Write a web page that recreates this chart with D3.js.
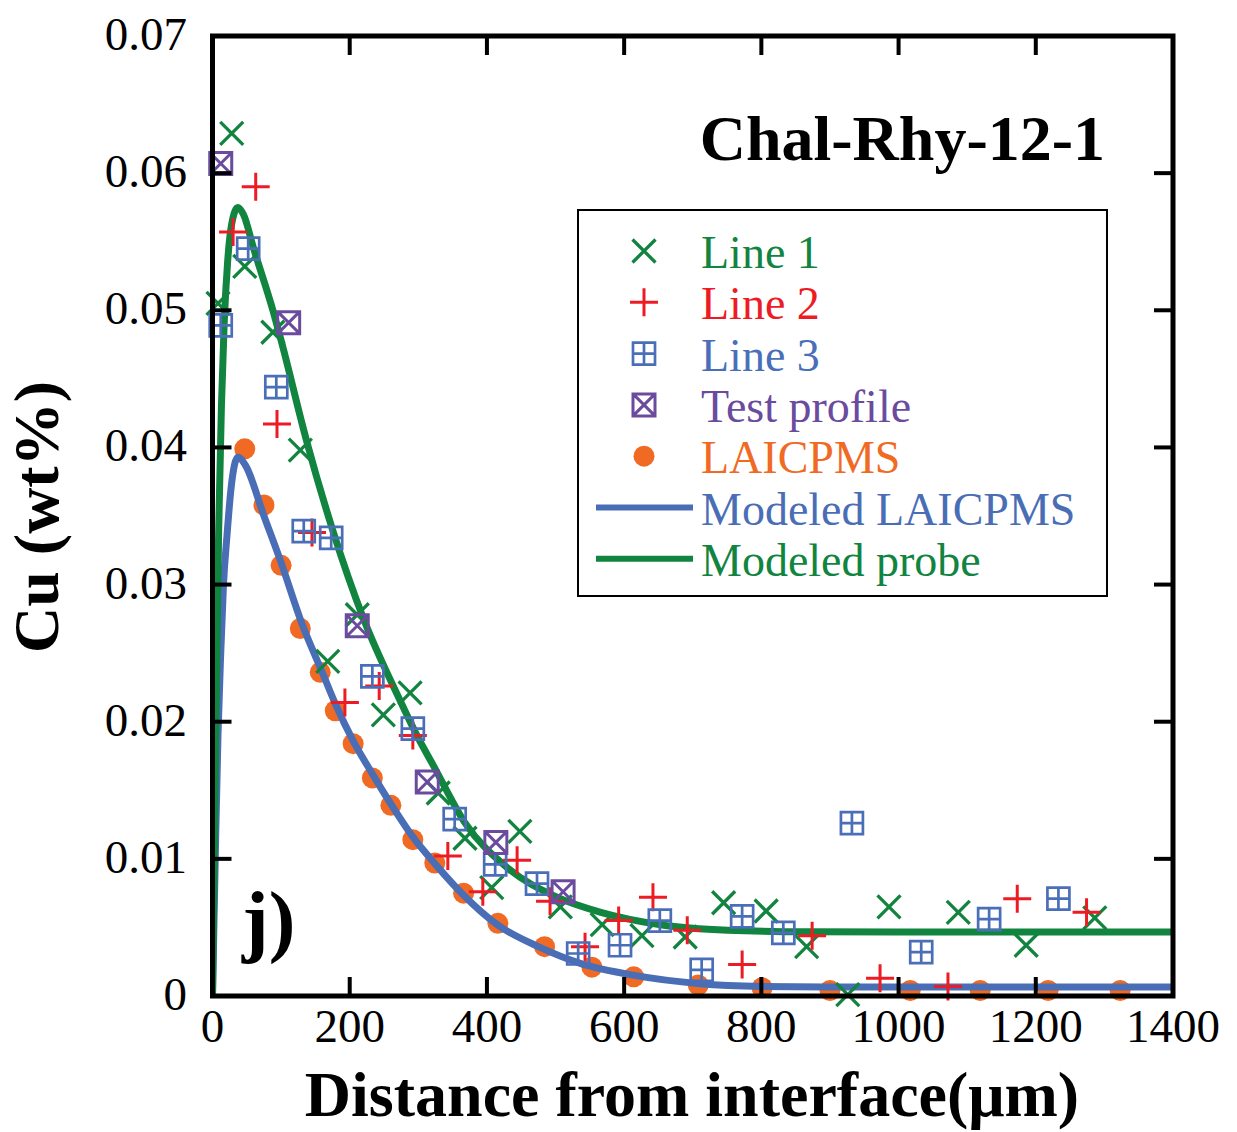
<!DOCTYPE html>
<html><head><meta charset="utf-8">
<script src="https://cdn.jsdelivr.net/npm/d3@7"></script>
<style>body{margin:0;background:#fff}svg{display:block}</style>
</head><body>
<svg id="c" width="1237" height="1132"></svg>
<script>
// ---- data ----
const xTicks = [0,200,400,600,800,1000,1200,1400];
const yTicks = [0,0.01,0.02,0.03,0.04,0.05,0.06,0.07];
const yTickLabels = ["0","0.01","0.02","0.03","0.04","0.05","0.06","0.07"];

const line1X = [8,28,47,88,128,168,211,249,288,329,368,448,407,507,568,626,689,745,807,866,926,986,1087,1186,1286];
const line1Y = [0.0505,0.0629,0.0532,0.0484,0.0398,0.0244,0.0278,0.0205,0.0221,0.0148,0.0115,0.0120,0.0079,0.0065,0.0052,0.0044,0.0043,0.0068,0.0062,0.0036,0.0001,0.0065,0.0061,0.0037,0.0057];

const line2X = [63,30,94,145,193,243,292,343,444,394,492,543,592,642,692,772,874,973,1072,1173,1274];
const line2Y = [0.0590,0.0557,0.0417,0.0338,0.0214,0.0226,0.0190,0.0102,0.0099,0.0076,0.0069,0.0036,0.0055,0.0072,0.0048,0.0023,0.0044,0.0013,0.0007,0.0071,0.0061];

const line3X = [12,52,93,133,173,233,292,353,412,473,533,594,652,713,772,832,932,1033,1132,1233];
const line3Y = [0.0489,0.0545,0.0444,0.0339,0.0334,0.0233,0.0195,0.0129,0.0096,0.0082,0.0031,0.0037,0.0055,0.0019,0.0058,0.0046,0.0126,0.0032,0.0056,0.0071];

const testX = [12,111,211,313,413,511];
const testY = [0.0607,0.0491,0.0270,0.0156,0.0112,0.0076];

const laX = [47,75,100,128,157,179,205,233,260,292,324,366,416,484,553,614,708,801,900,1017,1119,1218,1323];
const laY = [0.0399,0.0358,0.0314,0.0268,0.0236,0.0208,0.0184,0.0159,0.0139,0.0114,0.0097,0.0075,0.0053,0.0036,0.0021,0.0014,0.0008,0.0006,0.0004,0.0004,0.0004,0.0004,0.0004];

const modLaX = [0,4,8,12,16,21,27,37,48,75,100,130,160,180,205,233,260,292,325,365,415,475,535,615,710,800,900,1000,1100,1200,1300,1400];
const modLaY = [0,0.0100,0.0190,0.0250,0.0300,0.0335,0.0370,0.0393,0.0387,0.0350,0.0316,0.0272,0.0236,0.0212,0.0186,0.0162,0.0140,0.0116,0.0096,0.0074,0.0052,0.0036,0.0024,0.0015,0.0009,0.0007,0.00066,0.00065,0.00065,0.00065,0.00065,0.00065];

const modPrX = [0,3,6,9,13,17,22,28,37,45,60,88,100,137,175,221,271,300,322,367,431,498,566,653,751,869,1000,1100,1200,1300,1400];
const modPrY = [0,0.0120,0.0240,0.0340,0.0430,0.0490,0.0535,0.0563,0.0575,0.0570,0.0545,0.0500,0.0478,0.0405,0.0340,0.0274,0.0218,0.0188,0.0168,0.0127,0.0093,0.0073,0.0061,0.0052,0.0048,0.00468,0.00466,0.00466,0.00466,0.00466,0.00466];

const legendLabels = ["Line 1","Line 2","Line 3","Test profile","LAICPMS","Modeled LAICPMS","Modeled probe"];

// ---- styles ----
const C = {green:"#12843f", red:"#ed1c24", blue:"#4a6fb8", purple:"#6a4b9e", orange:"#f06a24", blueLine:"#4a6eb6", greenLine:"#11843f"};
const serif = "'Liberation Serif','Times New Roman',Times,serif";

const svg = d3.select("#c");
const x = d3.scaleLinear().domain([0,1400]).range([212.5,1173]);
const y = d3.scaleLinear().domain([0,0.07]).range([996,36]);

const zip = (a,b)=>a.map((v,i)=>[v,b[i]]);

svg.append("clipPath").attr("id","clip").append("rect")
  .attr("x",212.5).attr("y",36).attr("width",960.5).attr("height",960);

function drawMarker(g, type, cx, cy){
  if(type==="x"){
    const s=11.5;
    g.append("path").attr("d",`M${cx-s},${cy-s}L${cx+s},${cy+s}M${cx-s},${cy+s}L${cx+s},${cy-s}`)
      .attr("stroke",C.green).attr("stroke-width",3.3).attr("fill","none");
  } else if(type==="plus"){
    const s=14;
    g.append("path").attr("d",`M${cx-s},${cy}L${cx+s},${cy}M${cx},${cy-s}L${cx},${cy+s}`)
      .attr("stroke",C.red).attr("stroke-width",3).attr("fill","none");
  } else if(type==="sqplus"){
    const s=11;
    g.append("path").attr("d",`M${cx-s},${cy-s}H${cx+s}V${cy+s}H${cx-s}ZM${cx-s},${cy}H${cx+s}M${cx},${cy-s}V${cy+s}`)
      .attr("stroke",C.blue).attr("stroke-width",2.7).attr("fill","none");
  } else if(type==="sqx"){
    const s=11;
    g.append("path").attr("d",`M${cx-s},${cy-s}H${cx+s}V${cy+s}H${cx-s}ZM${cx-s},${cy-s}L${cx+s},${cy+s}M${cx-s},${cy+s}L${cx+s},${cy-s}`)
      .attr("stroke",C.purple).attr("stroke-width",3).attr("fill","none");
  } else if(type==="dot"){
    g.append("circle").attr("cx",cx).attr("cy",cy).attr("r",10.5).attr("fill",C.orange);
  }
}

const lineGen = d3.line().x(d=>x(d[0])).y(d=>y(d[1])).curve(d3.curveMonotoneX);

const plot = svg.append("g");
const gDots = plot.append("g");
zip(laX,laY).forEach(d=>drawMarker(gDots,"dot",x(d[0]),y(d[1])));
plot.append("path").datum(zip(modLaX,modLaY)).attr("d",lineGen)
  .attr("fill","none").attr("stroke",C.blueLine).attr("stroke-width",7).attr("clip-path","url(#clip)");
const gX = plot.append("g");
zip(line1X,line1Y).forEach(d=>drawMarker(gX,"x",x(d[0]),y(d[1])));
plot.append("path").datum(zip(modPrX,modPrY)).attr("d",lineGen)
  .attr("fill","none").attr("stroke",C.greenLine).attr("stroke-width",7).attr("clip-path","url(#clip)");
const gP = plot.append("g");
zip(line2X,line2Y).forEach(d=>drawMarker(gP,"plus",x(d[0]),y(d[1])));
const gS = plot.append("g");
zip(line3X,line3Y).forEach(d=>drawMarker(gS,"sqplus",x(d[0]),y(d[1])));
const gT = plot.append("g");
zip(testX,testY).forEach(d=>drawMarker(gT,"sqx",x(d[0]),y(d[1])));

// frame and ticks
const tl = 19;
const axG = svg.append("g");
axG.append("rect").attr("x",212.5).attr("y",36).attr("width",960.5).attr("height",960)
  .attr("fill","none").attr("stroke","#000").attr("stroke-width",5);
xTicks.forEach(t=>{
  axG.append("line").attr("x1",x(t)).attr("x2",x(t)).attr("y1",996).attr("y2",996-tl).attr("stroke","#000").attr("stroke-width",4);
  axG.append("line").attr("x1",x(t)).attr("x2",x(t)).attr("y1",36).attr("y2",36+tl).attr("stroke","#000").attr("stroke-width",4);
  axG.append("text").attr("x",x(t)).attr("y",1042).attr("text-anchor","middle")
    .attr("font-family",serif).attr("font-size",47).text(t);
});
yTicks.forEach((t,i)=>{
  axG.append("line").attr("x1",212.5).attr("x2",212.5+tl).attr("y1",y(t)).attr("y2",y(t)).attr("stroke","#000").attr("stroke-width",4);
  axG.append("line").attr("x1",1173).attr("x2",1173-tl).attr("y1",y(t)).attr("y2",y(t)).attr("stroke","#000").attr("stroke-width",4);
  axG.append("text").attr("x",187).attr("y",y(t)+14).attr("text-anchor","end")
    .attr("font-family",serif).attr("font-size",47).text(yTickLabels[i]);
});

svg.append("text").attr("x",692).attr("y",1116).attr("text-anchor","middle")
  .attr("font-family",serif).attr("font-weight","bold").attr("font-size",64)
  .text("Distance from interface(μm)");
svg.append("text").attr("transform","translate(58,517) rotate(-90)").attr("text-anchor","middle")
  .attr("font-family",serif).attr("font-weight","bold").attr("font-size",64)
  .text("Cu (wt%)");

svg.append("text").attr("x",1105).attr("y",160).attr("text-anchor","end")
  .attr("font-family",serif).attr("font-weight","bold").attr("font-size",64).text("Chal-Rhy-12-1");
svg.append("text").attr("x",242).attr("y",947)
  .attr("font-family",serif).attr("font-weight","bold").attr("font-size",80).text("j)");

// legend
const lg = svg.append("g");
lg.append("rect").attr("x",578).attr("y",210).attr("width",529).attr("height",386)
  .attr("fill","#fff").attr("stroke","#000").attr("stroke-width",2);
const legTypes = ["x","plus","sqplus","sqx","dot","lineB","lineG"];
const legColors = [C.green,C.red,C.blue,C.purple,C.orange,C.blueLine,C.greenLine];
legendLabels.forEach((lab,i)=>{
  const cy = 251 + i*51.3;
  const t = legTypes[i];
  if(t==="lineB"||t==="lineG"){
    lg.append("line").attr("x1",596).attr("x2",693).attr("y1",cy).attr("y2",cy)
      .attr("stroke",legColors[i]).attr("stroke-width",6);
  } else {
    drawMarker(lg,t,644,cy);
  }
  lg.append("text").attr("x",701).attr("y",cy+17).attr("font-family",serif).attr("font-size",46)
    .attr("fill",legColors[i]).text(lab);
});
</script>
</body></html>
